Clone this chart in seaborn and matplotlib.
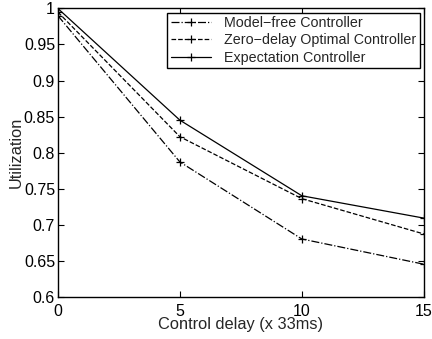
import matplotlib
matplotlib.use("Agg")
import matplotlib.pyplot as plt
import seaborn as sns
import pandas as pd

delays = [0, 5, 10, 15]
model_free = [0.990, 0.787, 0.680, 0.645]
zero_delay = [0.995, 0.822, 0.736, 0.687]
expectation = [1.000, 0.845, 0.740, 0.709]
series_names = ["Model\u2212free Controller", "Zero\u2212delay Optimal Controller", "Expectation Controller"]
styles = ["-.", "--", "-"]

sns.set_style("ticks")
plt.rcParams["font.family"] = ["Liberation Sans", "DejaVu Sans"]
plt.rcParams["xtick.direction"] = "in"
plt.rcParams["ytick.direction"] = "in"

fig = plt.figure(figsize=(4.32, 3.39), dpi=100)
ax = fig.add_axes([0.134, 0.125, 0.847, 0.85])

for name, vals, ls in zip(series_names, [model_free, zero_delay, expectation], styles):
    df = pd.DataFrame({"delay": delays, "util": vals})
    sns.lineplot(data=df, x="delay", y="util", ax=ax, color="black", linestyle=ls,
                 marker="+", markersize=6, markeredgewidth=0.9, markeredgecolor="black",
                 markerfacecolor="black", linewidth=0.9, label=name)

ax.set_xlim(0, 15)
ax.set_ylim(0.6, 1.0)
ax.set_xticks([0, 5, 10, 15])
ax.set_xticklabels(["0", "5", "10", "15"])
yt = [0.6, 0.65, 0.7, 0.75, 0.8, 0.85, 0.9, 0.95, 1.0]
ax.set_yticks(yt)
ax.set_yticklabels(["0.6", "0.65", "0.7", "0.75", "0.8", "0.85", "0.9", "0.95", "1"])
ax.tick_params(axis="both", which="both", top=True, right=True, length=4, width=0.8,
               labelsize=11.5, colors="black")
ax.tick_params(axis="x", pad=5)
ax.tick_params(axis="y", pad=2)
for s in ax.spines.values():
    s.set_linewidth(1.0)
    s.set_color("black")
    s.set_visible(True)
ax.set_xlabel("Control delay (x 33ms)", fontsize=11.8, labelpad=-1)
ax.set_ylabel("Utilization", fontsize=11.8, labelpad=0)

leg = ax.legend(loc="upper right", fontsize=10.3, frameon=True, fancybox=False,
                edgecolor="black", framealpha=1, borderpad=0.25, handlelength=2.8,
                labelspacing=0.22, handletextpad=0.9, borderaxespad=0.3)
leg.get_frame().set_linewidth(1.0)

fig.savefig("out.png", dpi=100)
